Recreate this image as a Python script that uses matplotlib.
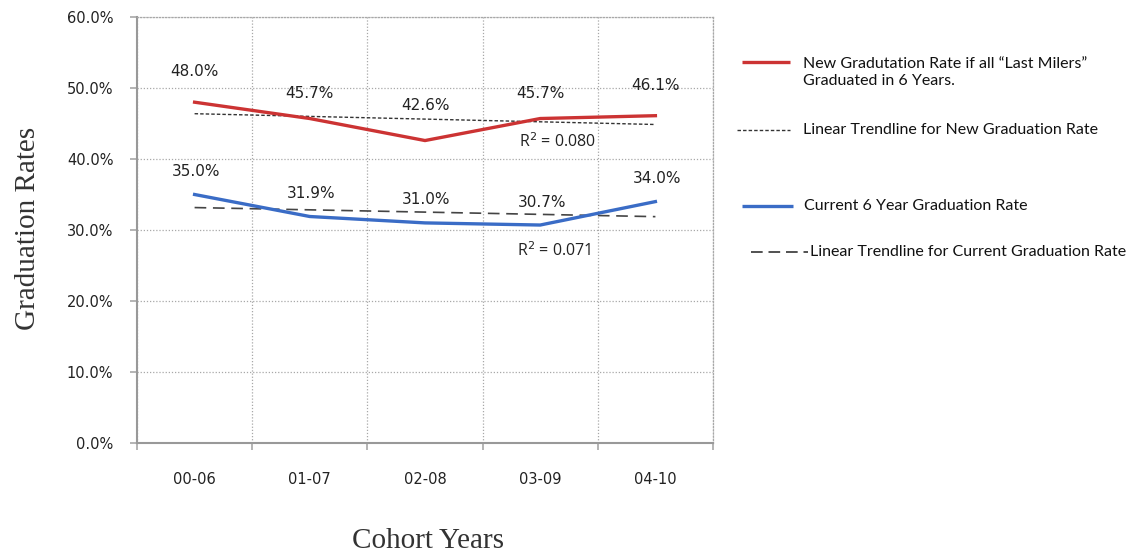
import numpy as np
import matplotlib
matplotlib.use("Agg")
import matplotlib.pyplot as plt
from matplotlib.lines import Line2D
from matplotlib.ticker import FixedLocator, PercentFormatter

plt.rcParams["font.family"] = ["DejaVu Sans"]

# Cohort data
cohorts = ["00-06", "01-07", "02-08", "03-09", "04-10"]
new_rate = [48.0, 45.7, 42.6, 45.7, 46.1]
current_rate = [35.0, 31.9, 31.0, 30.7, 34.0]
new_r2 = "R$^2$ = 0.080"
current_r2 = "R$^2$ = 0.071"
yticks = [0, 10, 20, 30, 40, 50, 60]

RED = "#cc3333"
BLUE = "#3a6cc6"
GRID = "#a8a8a8"

fig = plt.figure(figsize=(11.33, 5.54), dpi=100)
ax = fig.add_axes([137 / 1133, 1 - 443 / 554, 576 / 1133, 426 / 554])

x = np.arange(len(cohorts))
ax.set_xlim(-0.5, len(cohorts) - 0.5)
ax.set_ylim(0, 60)

# Gridlines at category boundaries and y ticks
ax.xaxis.set_major_locator(FixedLocator(x))
ax.xaxis.set_minor_locator(FixedLocator(np.arange(len(cohorts) + 1) - 0.5))
ax.set_xticklabels(cohorts, fontsize=10.5, color="#222222")
ax.tick_params(axis="x", which="major", length=0, pad=21)
ax.tick_params(axis="x", which="minor", length=5, color=GRID, width=1.2)
ax.set_yticks(yticks)
ax.yaxis.set_major_formatter(PercentFormatter(decimals=1))
ax.tick_params(axis="y", length=5, color=GRID, width=1.2, labelsize=10.5,
               labelcolor="#222222", pad=12)
ax.grid(True, which="minor", axis="x", color=GRID, linestyle=(0, (1, 1.5)), linewidth=0.9)
ax.grid(True, which="major", axis="y", color=GRID, linestyle=(0, (1, 1.5)), linewidth=0.9)
for s in ("left", "bottom"):
    ax.spines[s].set_color("#999999")
    ax.spines[s].set_linewidth(1.5)
for s in ("top", "right"):
    ax.spines[s].set_color(GRID)
    ax.spines[s].set_linestyle((0, (1, 1.5)))
    ax.spines[s].set_linewidth(0.9)
ax.set_axisbelow(True)

# Series
ax.plot(x, new_rate, color=RED, linewidth=2.4, solid_joinstyle="miter", zorder=3)
ax.plot(x, current_rate, color=BLUE, linewidth=2.4, solid_joinstyle="miter", zorder=3)

# Linear trendlines
m1, b1 = np.polyfit(x, new_rate, 1)
m2, b2 = np.polyfit(x, current_rate, 1)
ax.plot(x, m1 * x + b1, color="#333333", linewidth=1.0, linestyle=(0, (2.5, 1.5)), zorder=2)
ax.plot(x, m2 * x + b2, color="#444444", linewidth=1.2, linestyle=(0, (7, 4)), zorder=2)

# Value labels
red_offsets = [22, 18, 25, 18, 22]
for xi, v, off in zip(x, new_rate, red_offsets):
    ax.annotate(f"{v:.1f}%", (xi, v), xytext=(0, off), textcoords="offset points",
                ha="center", va="center", fontsize=11, color="#222222")
for xi, v in zip(x, current_rate):
    ax.annotate(f"{v:.1f}%", (xi, v), xytext=(1, 16.5), textcoords="offset points",
                ha="center", va="center", fontsize=11, color="#222222")

# R-squared notes
ax.text(3.15, m1 * 3.15 + b1 - 2.7, new_r2, ha="center", va="center",
        fontsize=11.5, family="Open Sans", color="#222222")
ax.text(3.12, m2 * 3.12 + b2 - 5.0, current_r2, ha="center", va="center",
        fontsize=11.5, family="Open Sans", color="#222222")

# Axis titles
fig.text(28 / 1133, 1 - 228 / 554, "Graduation Rates", rotation=90, ha="center", va="center",
         family="Liberation Serif", fontsize=21, color="#333333")
fig.text(428 / 1133, 1 - 541 / 554, "Cohort Years", ha="center", va="center",
         family="Liberation Serif", fontsize=21, color="#333333")

# Legend
def px(xp, yp):
    return xp / 1133, 1 - yp / 554

legend_font = dict(family="Lato", fontsize=11.5, color="#111111", va="center", ha="left")
entries = [
    (742, 790, 62, dict(color=RED, linewidth=2.4, solid_capstyle="butt"),
     803, "New Gradutation Rate if all \u201cLast Milers\u201d\nGraduated in 6 Years."),
    (737, 790, 130, dict(color="#333333", linewidth=1.0, linestyle=(0, (2.5, 1.5))),
     803, "Linear Trendline for New Graduation Rate"),
    (742, 793, 206, dict(color=BLUE, linewidth=2.4, solid_capstyle="butt"),
     804, "Current 6 Year Graduation Rate"),
    (751, 808, 252, dict(color="#333333", linewidth=1.2, linestyle=(0, (7, 3.5))),
     810, "Linear Trendline for Current Graduation Rate"),
]
for x0, x1, yp, style, tx, label in entries:
    a = px(x0, yp)
    b = px(x1, yp)
    fig.add_artist(Line2D([a[0], b[0]], [a[1], b[1]], transform=fig.transFigure, **style))
    ty = yp + (10.5 if "\n" in label else 0)
    fig.text(*px(tx, ty), label, linespacing=1.3, **legend_font)

fig.savefig("out.png", dpi=100, facecolor="white")
